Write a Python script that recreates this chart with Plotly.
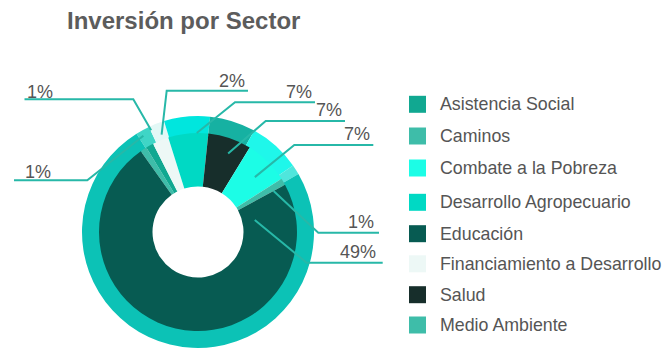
import math
import plotly.graph_objects as go

W, H = 669, 363

# ---- data ----
# inner pie slices, clockwise order as drawn
slice_names = ["Medio Ambiente", "Asistencia Social", "Financiamiento a Desarrollo",
               "Desarrollo Agropecuario", "Salud", "Combate a la Pobreza", "Caminos", "Educación"]
slice_share = [1.06, 1.25, 2.64, 6.53, 7.08, 7.22, 1.11, 73.11]
slice_labels = ["1%", "1%", "2%", "7%", "7%", "7%", "1%", "49%"]

# outer band, clockwise order as drawn
outer_names = ["Medio Ambiente / Asistencia", "Financiamiento", "Desarrollo", "Salud",
               "Combate", "Caminos", "Educación"]
outer_share = [1.94, 2.22, 6.39, 6.39, 7.22, 1.39, 74.44]

legend_names = ["Asistencia Social", "Caminos", "Combate a la Pobreza", "Desarrollo Agropecuario",
                "Educación", "Financiamiento a Desarrollo", "Salud", "Medio Ambiente"]

title_text = "Inversión por Sector"

# ---- styles ----
sector_colors = {
    "Asistencia Social": "#11a891",
    "Caminos": "#3ebda9",
    "Combate a la Pobreza": "#1cfde6",
    "Desarrollo Agropecuario": "#00d9c4",
    "Educación": "#075b52",
    "Financiamiento a Desarrollo": "#edf8f6",
    "Salud": "#172e2b",
    "Medio Ambiente": "#3ebda9",
}
outer_colors = ["#3fd5c6", "#e3f8f6", "#00e6de", "#16b1a2", "#1ff7ea", "#4fe6dc", "#0cc2b6"]

FONT = "Liberation Sans, Arial, Helvetica, sans-serif"
TEXT_COLOR = "#555555"
LINE_COLOR = "#27b8a8"

cx, cy = 198, 232
R_OUT, R_MID, R_HOLE = 116, 99, 45.5
inner_rotation = -35.3
outer_rotation = -32.0


def px(x):
    return x / W


def py(y):
    return 1 - y / H


def dom(r):
    return dict(x=[px(cx - r), px(cx + r)], y=[py(cy + r), py(cy - r)])


fig = go.Figure()
fig.add_trace(go.Pie(
    labels=outer_names, values=outer_share, sort=False, direction="clockwise",
    rotation=outer_rotation, hole=0.84, domain=dom(R_OUT),
    marker=dict(colors=outer_colors, line=dict(width=0)),
    textinfo="none", hoverinfo="skip", showlegend=False,
))
fig.add_trace(go.Pie(
    labels=slice_names, values=slice_share, sort=False, direction="clockwise",
    rotation=inner_rotation, hole=R_HOLE / R_MID, domain=dom(R_MID),
    marker=dict(colors=[sector_colors[n] for n in slice_names], line=dict(width=0)),
    text=slice_labels, textinfo="none", hoverinfo="label+text", showlegend=False,
))

# ---- leader lines + labels (layout) ----
# side, line y, elbow x, far x, tip radius, angle shift from slice mid, text x, text centre y
leader_layout = [
    ("left", 180.3, 87.3, 14.0, 110.6, 3.8, 22.5, 171.7),
    ("left", 99.3, 133.3, 24.5, 112.0, 4.5, 25.0, 91.7),
    ("right", 90.7, 166.7, 248.0, 104.0, 1.75, 246.5, 81.0),
    ("right", 102.3, 235.0, 315.0, 99.0, 5.0, 313.5, 91.7),
    ("right", 121.0, 265.7, 345.0, 84.0, 2.25, 343.5, 110.0),
    ("right", 145.0, 294.3, 373.3, 79.0, 1.5, 372.0, 134.0),
    ("right", 232.7, 318.3, 379.0, 86.0, 2.0, 375.5, 222.3),
    ("right", 262.7, 306.7, 382.7, 58.0, -115.0, 377.5, 251.7),
]

shapes = []
annotations = []
total = sum(slice_share)
cum = 0.0
for val, lab, (side, ly, xe, xf, tr, shift, tx, ty) in zip(slice_share, slice_labels, leader_layout):
    mid = inner_rotation + 360.0 * (cum + val / 2) / total + shift
    cum += val
    a = math.radians(mid)
    tipx = cx + tr * math.sin(a)
    tipy = cy - tr * math.cos(a)
    path = f"M {px(xf):.5f},{py(ly):.5f} L {px(xe):.5f},{py(ly):.5f} L {px(tipx):.5f},{py(tipy):.5f}"
    shapes.append(dict(type="path", xref="paper", yref="paper", path=path,
                       line=dict(color=LINE_COLOR, width=2)))
    annotations.append(dict(
        x=px(tx), y=py(ty), xref="paper", yref="paper", text=lab, showarrow=False,
        xanchor="left" if side == "left" else "right", yanchor="middle",
        font=dict(family=FONT, size=18, color=TEXT_COLOR),
    ))

# ---- legend (drawn manually to match row spacing) ----
legend_rows_y = [104.3, 136.0, 168.0, 202.3, 233.7, 263.8, 294.7, 325.0]
for name, yy in zip(legend_names, legend_rows_y):
    shapes.append(dict(type="rect", xref="paper", yref="paper",
                       x0=px(409), x1=px(426), y0=py(yy + 8.5), y1=py(yy - 8.5),
                       fillcolor=sector_colors[name], line=dict(width=0)))
    annotations.append(dict(
        x=px(438), y=py(yy), xref="paper", yref="paper", text=name, showarrow=False,
        xanchor="left", yanchor="middle",
        font=dict(family=FONT, size=17.8, color=TEXT_COLOR),
    ))

annotations.append(dict(
    x=px(65), y=py(20), xref="paper", yref="paper", text=f"<b>{title_text}</b>",
    showarrow=False, xanchor="left", yanchor="middle",
    font=dict(family=FONT, size=24, color="#5c5c5c"),
))

fig.update_layout(
    width=W, height=H, autosize=False,
    margin=dict(l=0, r=0, t=0, b=0),
    paper_bgcolor="white", plot_bgcolor="white",
    shapes=shapes, annotations=annotations, showlegend=False,
)

fig.write_html("out.html", config={"displayModeBar": False},
               post_script="document.body.style.margin='0px';document.body.style.overflow='hidden';")
